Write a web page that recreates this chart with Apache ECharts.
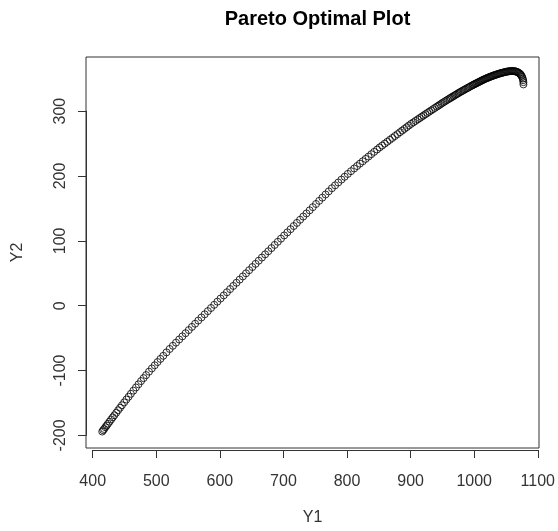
<!DOCTYPE html>
<html>
<head>
<meta charset="utf-8">
<script src="https://cdn.jsdelivr.net/npm/echarts@6/dist/echarts.min.js"></script>
<style>
  html, body { margin: 0; background: #fff; }
  #chart { width: 558px; height: 531px; }
</style>
</head>
<body>
<div id="chart"></div>
<script>
// values
const y1Values = [
  415, 416.5, 418, 420, 422, 424, 426.5, 429, 431.5, 434, 437, 440, 443, 446, 449.5, 453, 456.5, 460,
  464, 468, 472, 476, 480, 484, 488.5, 493, 497.5, 502, 506.5, 511, 516, 521,
  526, 531, 536, 541, 546, 551, 556, 561, 566, 571, 576, 581, 586, 591, 596, 601, 606, 611, 616, 621,
  626, 631, 636, 641, 646, 651, 656, 661, 666, 671, 676, 681, 686, 691, 696, 701, 706, 711, 716, 721,
  726, 731, 736, 741, 746, 751, 756, 761, 766, 771, 776,
  781, 786, 791, 796, 801, 806, 811, 815.5, 820, 824.5, 829, 833.5, 838, 842.5, 847, 851, 855, 859,
  863, 867, 871, 875, 879, 883, 886.5, 890, 893.5, 897, 900.5, 904, 907.5, 911, 914, 917, 920, 923,
  926, 929, 932, 935, 938, 941, 943.5, 946, 948.5, 951, 953.5, 956, 958.5, 961, 963, 965, 967, 969,
  971, 973, 975, 977, 979, 981, 983, 985, 987, 989, 991, 993, 995, 997, 998.5, 1000, 1001.5, 1003,
  1004.5, 1006, 1007.5, 1009, 1010.5, 1012, 1013.5, 1015, 1016.5, 1018, 1019.5, 1021, 1022.5, 1024,
  1025.5, 1027, 1028.5, 1030, 1031.5, 1033, 1034.5, 1036, 1037.5, 1039, 1040.5, 1042, 1043.5, 1045,
  1046.5, 1048, 1049.5, 1051, 1052.5, 1054, 1055.5, 1057, 1058.5, 1060, 1061.5, 1063, 1064.5, 1066,
  1067.5, 1069, 1070.5, 1072, 1073, 1074, 1075, 1076, 1076.5, 1077, 1077
];
const y2Values = [
  -197, -195, -193, -190.3, -187.7, -185, -181.7, -178.3, -175, -171.8, -167.9, -164, -160.1, -156.2, -151.8, -147.4, -143, -138.5,
  -133.6, -128.7, -123.8, -118.8, -114.2, -109.5, -104.2, -99.2, -94.3, -89.3, -84.4, -79.6, -74.3, -69,
  -64.1, -59.2, -54.3, -49.5, -44.6, -39.7, -34.8, -29.9, -25.0, -20.2, -15.3, -10.4, -5.5, -0.6, 4.3, 9.2, 14.0, 18.9, 23.8, 28.7,
  33.6, 38.5, 43.4, 48.2, 53.1, 58.0, 62.9, 67.8, 72.7, 77.6, 82.4, 87.3, 92.2, 97.1, 102.0, 106.9, 111.7, 116.6, 121.5, 126.4,
  131.3, 136.2, 141.0, 145.9, 150.8, 155.7, 160.6, 165.5, 170.4, 175.2, 180.1,
  184.6, 189.0, 193.5, 197.9, 202.3, 206.5, 210.7, 214.5, 218.2, 221.9, 225.6, 229.2, 232.9, 236.5, 240.1, 243.3, 246.2, 249.2,
  252.1, 255.1, 258.0, 261.0, 263.9, 266.9, 269.5, 272.1, 274.7, 277.3, 279.9, 282.2, 284.5, 286.8, 288.8, 290.8, 292.8, 294.8,
  296.8, 298.7, 300.7, 302.7, 304.6, 306.6, 308.2, 309.8, 311.5, 313.1, 314.6, 316.2, 317.7, 319.2, 320.4, 321.6, 322.8, 324.0,
  325.2, 326.4, 327.6, 328.8, 329.9, 331.0, 332.1, 333.2, 334.3, 335.4, 336.5, 337.6, 338.7, 339.7, 340.5, 341.3, 342.0, 342.8,
  343.5, 344.3, 345.0, 345.8, 346.5, 347.3, 348.0, 348.7, 349.4, 350.1, 350.7, 351.3, 351.9, 352.5,
  353.1, 353.7, 354.2, 354.8, 355.3, 355.8, 356.3, 356.8, 357.3, 357.8, 358.2, 358.6, 359.0, 359.4,
  359.8, 360.1, 360.5, 360.8, 361.1, 361.3, 361.5, 361.7, 361.8, 361.8, 361.7, 361.5, 361.2, 360.8,
  360.2, 359.4, 358.4, 357.1, 355.8, 354.3, 352.5, 350.0, 347.5, 344.5, 341
];
const xTicks = [400, 500, 600, 700, 800, 900, 1000, 1100];
const yTicks = [-200, -100, 0, 100, 200, 300];

// plot box (px) and the data range it covers (R pads the range by 4%)
const box = { left: 86, top: 57, right: 539, bottom: 450 };
const xRange = [389.5, 1101.5];
const yRange = [-222.5, 383.5];

const font = '"Liberation Sans", Arial, sans-serif';
const ink = '#333';

function px(v) {
  return box.left + (v - xRange[0]) / (xRange[1] - xRange[0]) * (box.right - box.left);
}
function py(v) {
  return box.top + (yRange[1] - v) / (yRange[1] - yRange[0]) * (box.bottom - box.top);
}

const points = y1Values.map((v, i) => [v, y2Values[i]]);
const boxW = box.right - box.left;
const boxH = box.bottom - box.top;

const tickAxis = {
  axisLine: { show: true, lineStyle: { color: ink, width: 1 } },
  axisTick: { show: true, inside: false, length: 8, lineStyle: { color: ink } },
  splitLine: { show: false }
};

const chart = echarts.init(document.getElementById('chart'));
chart.setOption({
  animation: false,
  backgroundColor: '#fff',
  title: {
    text: 'Pareto Optimal Plot',
    left: (box.left + box.right) / 2,
    top: 4,
    textAlign: 'center',
    textStyle: { fontFamily: font, fontSize: 20, fontWeight: 'bold', color: '#000' }
  },
  grid: [
    { left: box.left, top: box.top, width: boxW, height: boxH, show: true, borderColor: ink, borderWidth: 1, backgroundColor: 'transparent' },
    { left: px(xTicks[0]), top: box.top, width: px(xTicks[xTicks.length - 1]) - px(xTicks[0]), height: boxH },
    { left: box.left, top: py(yTicks[yTicks.length - 1]), width: boxW, height: py(yTicks[0]) - py(yTicks[yTicks.length - 1]) }
  ],
  xAxis: [
    {
      gridIndex: 0, type: 'value', min: xRange[0], max: xRange[1],
      axisLine: { show: false }, axisTick: { show: false }, axisLabel: { show: false }, splitLine: { show: false },
      name: 'Y1', nameLocation: 'middle', nameGap: 62,
      nameTextStyle: { fontFamily: font, fontSize: 16, color: ink }
    },
    {
      gridIndex: 1, type: 'value', position: 'bottom',
      min: xTicks[0], max: xTicks[xTicks.length - 1], interval: xTicks[1] - xTicks[0],
      ...tickAxis,
      axisLabel: { margin: 24, fontFamily: font, fontSize: 16, color: ink, formatter: v => String(v) }
    },
    { gridIndex: 2, type: 'value', show: false }
  ],
  yAxis: [
    {
      gridIndex: 0, type: 'value', min: yRange[0], max: yRange[1],
      axisLine: { show: false }, axisTick: { show: false }, axisLabel: { show: false }, splitLine: { show: false },
      name: 'Y2', nameLocation: 'middle', nameGap: 60,
      nameTextStyle: { fontFamily: font, fontSize: 16, color: ink }
    },
    { gridIndex: 1, type: 'value', show: false },
    {
      gridIndex: 2, type: 'value', position: 'left',
      min: yTicks[0], max: yTicks[yTicks.length - 1], interval: yTicks[1] - yTicks[0],
      ...tickAxis,
      axisLabel: { margin: 17, rotate: 90, fontFamily: font, fontSize: 16, color: ink, formatter: v => String(v) }
    }
  ],
  series: [
    {
      type: 'scatter',
      xAxisIndex: 0,
      yAxisIndex: 0,
      data: points,
      symbol: 'circle',
      symbolSize: 7,
      silent: true,
      itemStyle: { color: 'rgba(0,0,0,0)', borderColor: '#000', borderWidth: 1 }
    }
  ]
});
</script>
</body>
</html>
